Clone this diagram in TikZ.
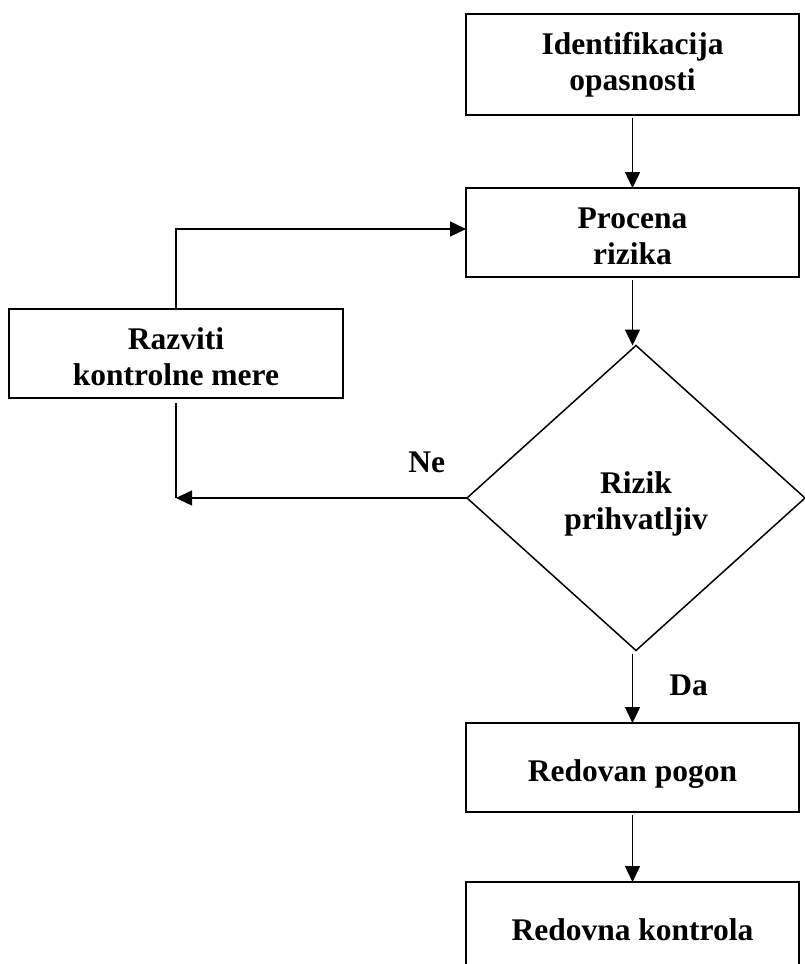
\documentclass[tikz,border=0pt]{standalone}
\usepackage{fontspec}
\setmainfont{Liberation Serif}
\usepackage{tikz}
\usetikzlibrary{positioning,shapes.geometric,arrows.meta,calc}
% tekst spusten za #1, velicina kutije ostaje ista
\newcommand{\tekst}[2][7pt]{\raisebox{-#1}[\height][\depth]{\begin{tabular}{@{}c@{}}#2\end{tabular}}}

\begin{document}
\begin{tikzpicture}[x=1pt,y=-1pt,
  box/.style={draw,line width=2pt,rectangle,minimum width=333pt,inner sep=0pt,outer sep=0pt},
  odluka/.style={draw,line width=1.5pt,diamond,minimum width=338pt,minimum height=305pt,inner sep=0pt,outer sep=0pt},
  strelica/.style={line width=1.5pt,-{Triangle[length=16pt,width=15pt]}},
  linija/.style={line width=1.5pt},
  lbl/.style={inner sep=0pt}]
\useasboundingbox (0,0) rectangle (805,964);
\tikzset{every node/.append style={font=\fontsize{31.5}{36}\selectfont\bfseries}}

\node[box,minimum height=101pt](ident) at (632.5,64.5) {\tekst[1pt]{Identifikacija\\opasnosti}};
\node[box,minimum height=89pt](procena) at (632.5,232.5) {\tekst{Procena\\rizika}};
\node[box,minimum height=89pt,minimum width=334pt](razviti) at (176,353.5) {\tekst{Razviti\\kontrolne mere}};
\node[odluka](rizik) at (636,498) {\tekst[6pt]{Rizik\\prihvatljiv}};
\node[box,minimum height=89pt](pogon) at (632.5,767.5) {\tekst{Redovan pogon}};
\node[box,minimum height=89pt](kontrola) at (632.5,926.5) {\tekst{Redovna kontrola}};

\coordinate (ugao) at (razviti.south |- rizik.west);

\draw[strelica,shorten <=3pt] (ident.south) -- (procena.north);
\draw[strelica,shorten <=3pt] (procena.south) -- (procena.south |- rizik.north);
\draw[strelica] ($(pogon.north |- rizik.south)+(0,3)$) -- node[lbl,pos=0.46,right=36pt](da) {Da} (pogon.north);
\draw[strelica,shorten <=3pt] (pogon.south) -- (kontrola.north);
\draw[strelica] (rizik.west) -- node[lbl,pos=0.138,above=24pt](ne) {Ne} (ugao);
\draw[linija] ($(razviti.south)+(0,5)$) -- (ugao);
\draw[strelica] (razviti.north) |- ($(procena.west)+(0,-3.5)$);
\end{tikzpicture}
\end{document}
